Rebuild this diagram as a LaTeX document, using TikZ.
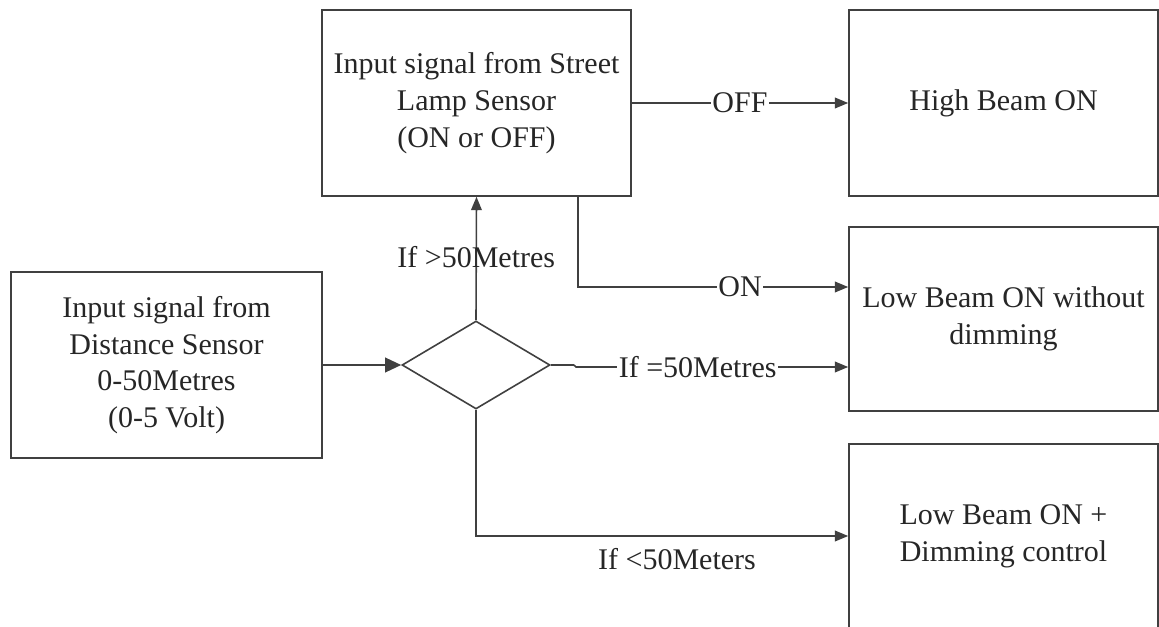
\documentclass[tikz,border=0pt]{standalone}
\usepackage{fontspec}
\setmainfont{Liberation Serif}
\usetikzlibrary{shapes.geometric,arrows.meta}
\begin{document}
\begin{tikzpicture}[x=0.75pt,y=-0.75pt,
  font=\fontsize{22.5}{27.5}\selectfont,
  line width=1.2pt,
  every node/.style={text=black!85},
  box/.style={draw=black!75, minimum width=231.75pt, inner sep=0pt, align=center},
  conn/.style={draw=black!75, -{Triangle[length=10pt,width=8pt]}},
  lbl/.style={fill=white, inner sep=1pt}
]
\useasboundingbox (0,0) rectangle (1159,627);
\node[box, minimum height=139.5pt] (top) at (476.5,103) {Input signal from Street\\Lamp Sensor\\(ON or OFF)};
\node[box, minimum height=139.5pt] (high) at (1003.5,103) {High Beam ON};
\node[box, minimum height=138pt] (low) at (1003.5,319) {Low Beam ON without\\dimming};
\node[box, minimum height=138pt] (dimm) at (1003.5,536) {Low Beam ON +\\Dimming control};
\node[box, minimum width=233.25pt, minimum height=139.5pt] (dist) at (166.5,365) {Input signal from\\Distance Sensor\\0-50Metres\\(0-5 Volt)};
\node[draw=black!75, diamond, aspect=1.68, minimum width=111pt, minimum height=66pt, inner sep=0pt] (dia) at (476,365) {};
\coordinate (jog) at (576,367);
\coordinate (onx) at (578,287);

\draw[conn, -{Triangle[length=12pt,width=11pt]}] (dist.east) -- (dia.west);
\draw[conn] (dia.north) -- node[pos=0.512, inner sep=0pt] {If >50Metres} (top.south);
\draw[conn] (top.east) -- node[lbl] {OFF} (high.west);
\draw[conn] (top.south -| onx) |- node[pos=0.8, lbl] {ON} (low.west |- onx);
\draw[conn] (dia.east) -- ++(23,0) -- (jog) -- node[pos=0.447, lbl] {If =50Metres} (low.west |- jog);
\draw[conn] (dia.south) |- node[pos=0.77, yshift=-17.25pt] {If <50Meters} (dimm.west);
\end{tikzpicture}
\end{document}
